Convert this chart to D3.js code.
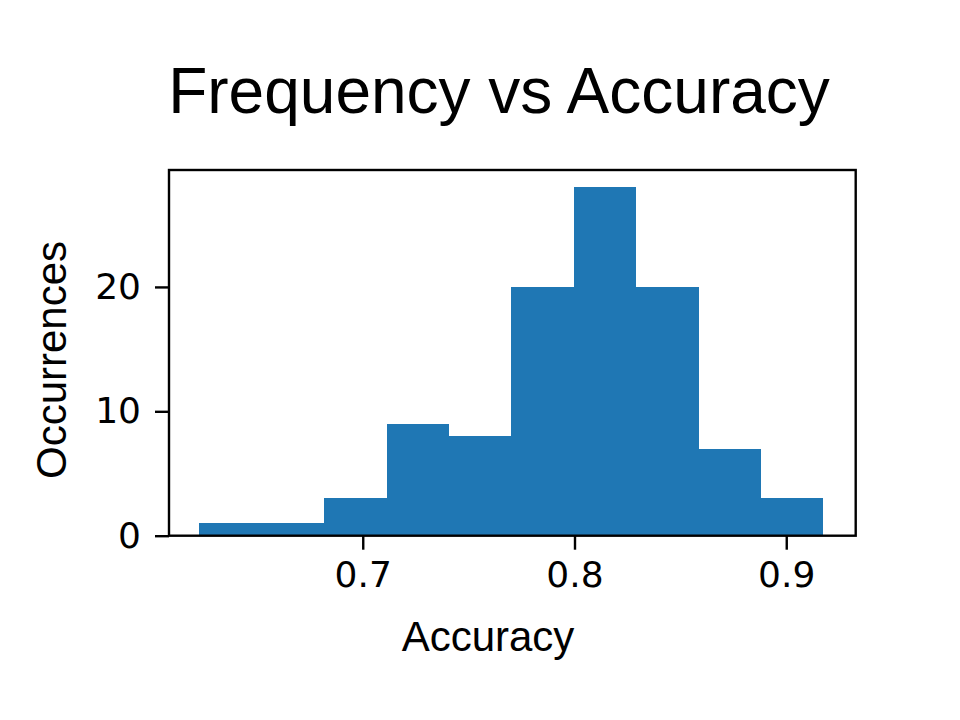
<!DOCTYPE html>
<html>
<head>
<meta charset="utf-8">
<script src="https://cdn.jsdelivr.net/npm/d3@7"></script>
<style>
  body { margin: 0; background: #fff; }
</style>
</head>
<body>
<svg></svg>
<script>
// histogram bin edges (accuracy) and counts per bin
var binEdges = [0.6229, 0.6524, 0.6818, 0.7113, 0.7407, 0.7702, 0.7997, 0.8291, 0.8586, 0.8880, 0.9175];
var counts = [1, 1, 3, 9, 8, 20, 28, 20, 7, 3];
var xTicks = [0.7, 0.8, 0.9];
var yTicks = [0, 10, 20];

var svgWidth = 960, svgHeight = 720;
var plotLeft = 169, plotRight = 855.7, plotTop = 170, plotBottom = 535.7;

var svg = d3.select('svg')
    .attr('width', svgWidth)
    .attr('height', svgHeight);

var x = d3.scaleLinear()
    .domain([0.6085, 0.9328])
    .range([plotLeft, plotRight]);

var y = d3.scaleLinear()
    .domain([0, 29.4])
    .range([plotBottom, plotTop]);

var bins = counts.map(function(c, i) {
    return { x0: binEdges[i], x1: binEdges[i + 1], count: c };
});

svg.append('g')
    .selectAll('rect')
    .data(bins)
    .enter()
    .append('rect')
    .attr('x', function(d) { return x(d.x0); })
    .attr('width', function(d) { return x(d.x1) - x(d.x0); })
    .attr('y', function(d) { return y(d.count); })
    .attr('height', function(d) { return y(0) - y(d.count); })
    .attr('fill', '#1f77b4')
    .attr('shape-rendering', 'crispEdges');

// axes frame
svg.append('rect')
    .attr('x', plotLeft)
    .attr('y', plotTop)
    .attr('width', plotRight - plotLeft)
    .attr('height', plotBottom - plotTop)
    .attr('fill', 'none')
    .attr('stroke', '#000')
    .attr('stroke-width', 2.4);

var xAxis = svg.append('g')
    .attr('transform', 'translate(0,' + plotBottom + ')')
    .call(d3.axisBottom(x).tickValues(xTicks).tickFormat(d3.format('.1f')).tickSize(14).tickPadding(12));

var yAxis = svg.append('g')
    .attr('transform', 'translate(' + plotLeft + ',0)')
    .call(d3.axisLeft(y).tickValues(yTicks).tickFormat(d3.format('d')).tickSize(14).tickPadding(14));

[xAxis, yAxis].forEach(function(g) {
    g.select('.domain').remove();
    g.selectAll('.tick line').attr('stroke', '#000').attr('stroke-width', 2.4);
    g.selectAll('.tick text')
        .attr('fill', '#000')
        .style('font-family', '"DejaVu Sans", sans-serif')
        .style('font-size', '36px');
});

svg.append('text')
    .attr('x', 499)
    .attr('y', 113)
    .attr('text-anchor', 'middle')
    .style('font-family', '"Liberation Sans", Arial, sans-serif')
    .style('font-size', '64px')
    .text('Frequency vs Accuracy');

svg.append('text')
    .attr('x', 488)
    .attr('y', 651)
    .attr('text-anchor', 'middle')
    .style('font-family', '"Liberation Sans", Arial, sans-serif')
    .style('font-size', '42px')
    .text('Accuracy');

svg.append('text')
    .attr('transform', 'translate(66,360) rotate(-90)')
    .attr('text-anchor', 'middle')
    .style('font-family', '"Liberation Sans", Arial, sans-serif')
    .style('font-size', '42px')
    .text('Occurrences');
</script>
</body>
</html>
